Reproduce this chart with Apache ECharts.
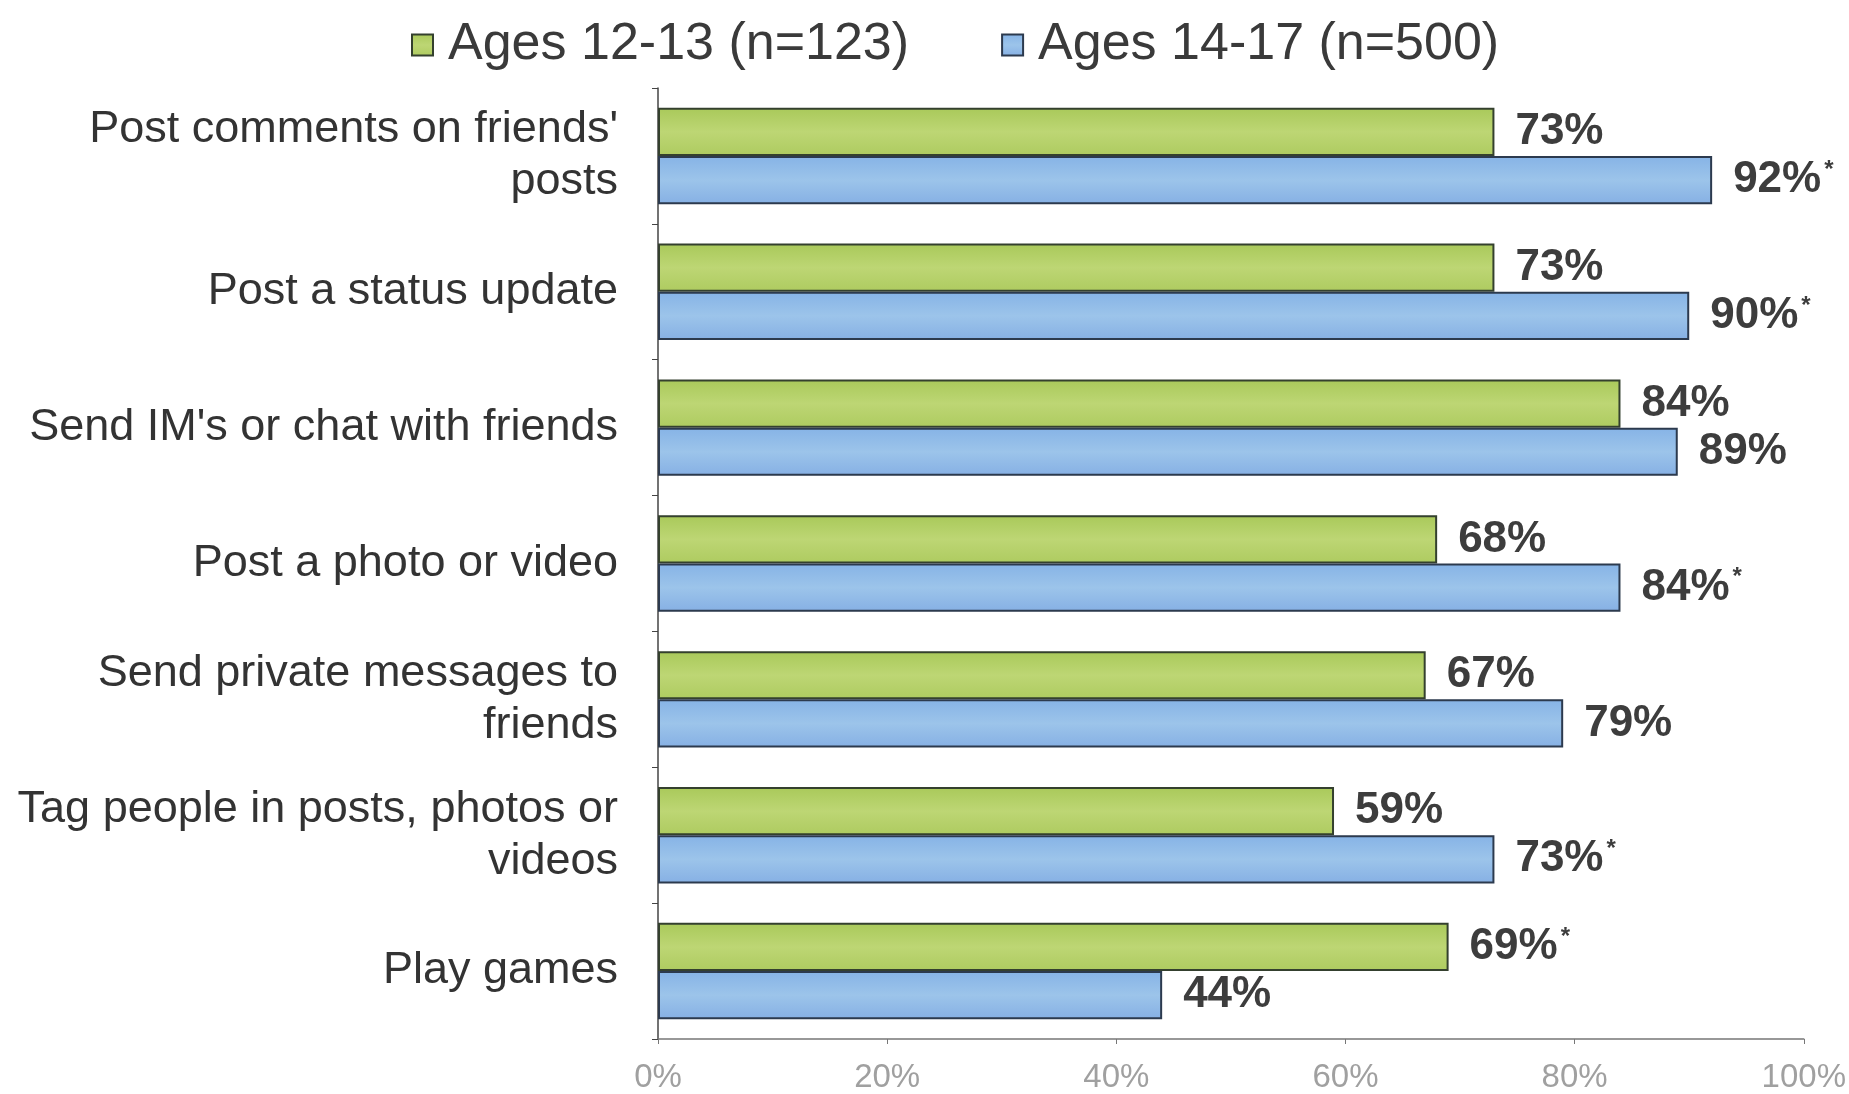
<!DOCTYPE html>
<html><head><meta charset="utf-8">
<script src="https://cdn.jsdelivr.net/npm/echarts@6/dist/echarts.min.js"></script>
<style>html,body{margin:0;padding:0;background:#fff}#c{width:1849px;height:1094px}</style>
</head><body><div id="c"></div>
<script>
const categories = ["Post comments on friends'\nposts", "Post a status update", "Send IM's or chat with friends", "Post a photo or video", "Send private messages to\nfriends", "Tag people in posts, photos or\nvideos", "Play games"];
const seriesNames = ["Ages 12-13 (n=123)", "Ages 14-17 (n=500)"];
const ages1213 = [73, 73, 84, 68, 67, 59, 69];
const ages1417 = [92, 90, 89, 84, 79, 73, 44];
const sig1213 = [0, 0, 0, 0, 0, 0, 1];
const sig1417 = [1, 1, 0, 1, 0, 1, 0];
const xTicks = [0, 20, 40, 60, 80, 100];

const font = "'Liberation Sans', Arial, Helvetica, sans-serif";
const chart = echarts.init(document.getElementById('c'));
function lbl(sig) {
  return {
    show: true, position: 'right', distance: 21,
    fontFamily: font, fontSize: 44, fontWeight: 'bold', color: '#3d3d3d',
    formatter: p => p.value + '%' + (sig[p.dataIndex] ? '{s|*}' : ''),
    rich: { s: { fontSize: 24, fontWeight: 'bold', color: '#3d3d3d', verticalAlign: 'top', padding: [0, 0, 18, 3] } }
  };
}
chart.setOption({
  animation: false,
  backgroundColor: '#ffffff',
  legend: {
    top: 14, left: 406, itemWidth: 21, itemHeight: 21, itemGap: 92,
    icon: 'rect',
    textStyle: { fontFamily: font, fontSize: 52, color: '#3a3a3a', padding: [0, 0, 0, 10] },
    data: seriesNames
  },
  grid: { left: 658, right: 43, top: 88, bottom: 52, containLabel: false },
  xAxis: {
    type: 'value', min: 0, max: 100, interval: 20,
    axisLine: { show: true, lineStyle: { color: '#777', width: 1.5 } },
    axisTick: { show: true, length: 5, lineStyle: { color: '#777' } },
    splitLine: { show: false },
    axisLabel: { formatter: '{value}%', fontFamily: font, fontSize: 33, color: '#a0a0a0', margin: 22 }
  },
  yAxis: {
    type: 'category', data: categories, inverse: true,
    axisLine: { show: true, lineStyle: { color: '#444', width: 1.5 } },
    axisTick: { show: true, length: 6, lineStyle: { color: '#444' } },
    axisLabel: { fontFamily: font, fontSize: 45, color: '#333', margin: 40, lineHeight: 52, align: 'right' }
  },
  series: [
    {
      name: seriesNames[0], type: 'bar', data: ages1213, barGap: '0%', barCategoryGap: '29%',
      itemStyle: {
        color: new echarts.graphic.LinearGradient(0, 0, 0, 1, [
          { offset: 0, color: '#a9c95a' }, { offset: 0.5, color: '#bdd674' }, { offset: 1, color: '#aecb60' }
        ]),
        borderColor: '#34402e', borderWidth: 2
      },
      label: lbl(sig1213)
    },
    {
      name: seriesNames[1], type: 'bar', data: ages1417, barGap: '0%', barCategoryGap: '29%',
      itemStyle: {
        color: new echarts.graphic.LinearGradient(0, 0, 0, 1, [
          { offset: 0, color: '#86b3e6' }, { offset: 0.5, color: '#9cc4ea' }, { offset: 1, color: '#86b0e4' }
        ]),
        borderColor: '#2c3a4e', borderWidth: 2
      },
      label: lbl(sig1417)
    }
  ]
});
</script></body></html>
